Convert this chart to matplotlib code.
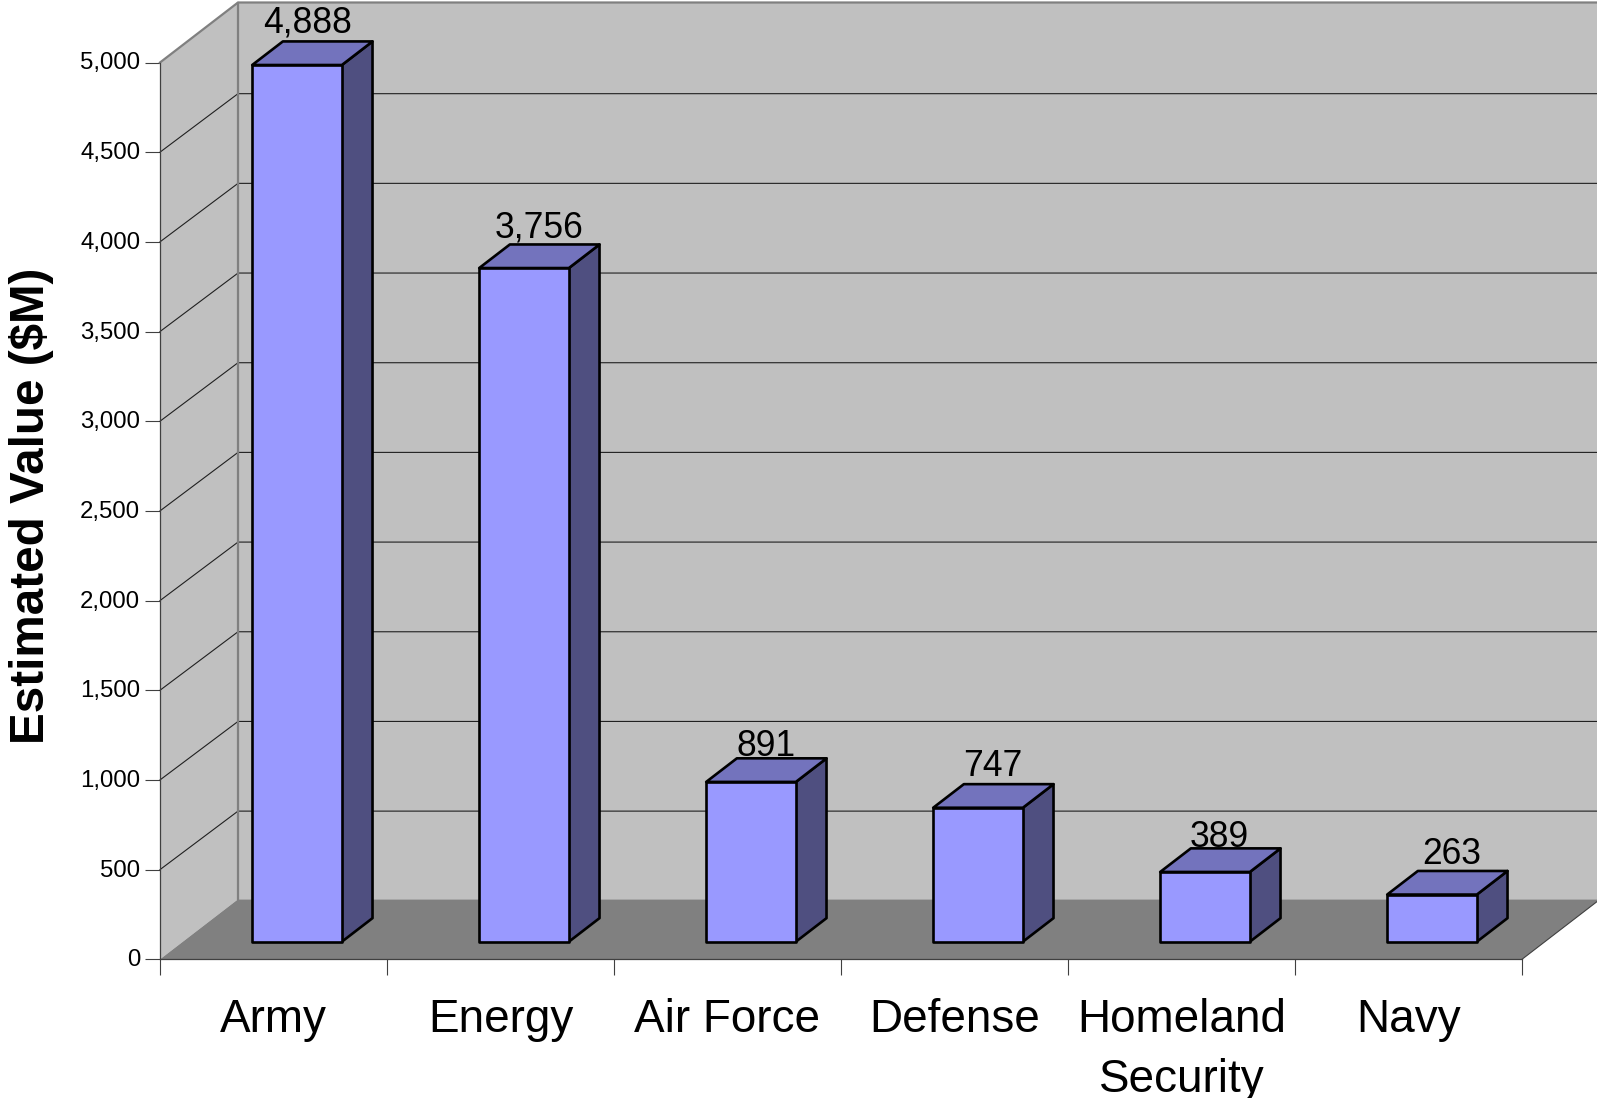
import matplotlib
matplotlib.use("Agg")
import matplotlib.pyplot as plt
from matplotlib.patches import Polygon
from matplotlib.transforms import ScaledTranslation

categories = ["Army", "Energy", "Air Force", "Defense", "Homeland\nSecurity", "Navy"]
values = [4888, 3756, 891, 747, 389, 263]
value_labels = ["4,888", "3,756", "891", "747", "389", "263"]
y_ticks = [0, 500, 1000, 1500, 2000, 2500, 3000, 3500, 4000, 4500, 5000]

# Tamano en pixeles y plano frontal del grafico
W, H = 1597, 1098
LEFT, RIGHT = 160, 1522
TOP, BOTTOM = 62.5, 959.3

# Profundidad de la pared del fondo, en pixeles
DEPTH_X, DEPTH_Y = 78, 60
px_x = len(categories) / (RIGHT - LEFT)
px_y = 5000 / (BOTTOM - TOP)

BAR_WIDTH = 0.395
BAR_Z0, BAR_Z1 = 0.293, 0.686

# Ajuste de cada etiqueta respecto a la cara superior (pixeles)
label_dx = [-4, 0, 0, 0, 0, 5]
label_dy = [18, 16, 12, 18, 11, 16]

plt.rcParams["font.family"] = ["Liberation Sans", "DejaVu Sans"]

fig = plt.figure(figsize=(W / 100, H / 100), dpi=100)
ax = fig.add_axes([LEFT / W, 1 - BOTTOM / H, (RIGHT - LEFT) / W, (BOTTOM - TOP) / H])
ax.set_xlim(0, len(categories))
ax.set_ylim(0, 5000)


def project(x, y, z):
    # Pasa un punto (x, valor, profundidad) al plano del eje
    return x + z * DEPTH_X * px_x, y + z * DEPTH_Y * px_y


def face(points, color, edge="none", lw=0, zorder=1):
    ax.add_patch(Polygon([project(*p) for p in points], closed=True, facecolor=color,
                         edgecolor=edge, linewidth=lw, joinstyle="round",
                         clip_on=False, zorder=zorder))


n = len(categories)
far = n + 1

# Paredes y suelo
face([(0, 0, 1), (far, 0, 1), (far, 5000, 1), (0, 5000, 1)], "#c0c0c0")
face([(0, 0, 0), (0, 0, 1), (0, 5000, 1), (0, 5000, 0)], "#c0c0c0")
face([(0, 0, 0), (n, 0, 0), (n, 0, 1), (0, 0, 1)], "#808080")

# Rejilla (la pared del fondo cae un poco mas abajo que la perspectiva exacta)
back_nudge = 1.5 * px_y
for t in y_ticks[1:-1]:
    x0, y0 = project(0, t, 0)
    x1, y1 = project(0, t, 1)
    x2, y2 = project(far, t, 1)
    ax.plot([x0, x1, x2], [y0, y1 - back_nudge, y2 - back_nudge], color="#202020", lw=0.8,
            clip_on=False, zorder=2)

# Bordes grises de las paredes
x0, y0 = project(0, 5000, 0)
x1, y1 = project(0, 5000, 1)
x2, y2 = project(far, 5000, 1)
ax.plot([x0, x1, x2], [y0, y1, y2], color="#808080", lw=1.6, clip_on=False, zorder=2)
x3, y3 = project(0, 0, 1)
ax.plot([x1, x3], [y1, y3], color="#808080", lw=1.6, clip_on=False, zorder=2)
x4, y4 = project(n, 0, 0)
x5, y5 = project(n, 0, 1)
ax.plot([x4, x5], [y4, y5], color="#404040", lw=0.8, clip_on=False, zorder=2)

# Barras
for i, (v, lab) in enumerate(zip(values, value_labels)):
    a = i + 0.5 - BAR_WIDTH / 2 + 0.003
    b = i + 0.5 + BAR_WIDTH / 2 + 0.003
    face([(b, 0, BAR_Z0), (b, 0, BAR_Z1), (b, v, BAR_Z1), (b, v, BAR_Z0)],
         "#4f4f80", "black", 1.9, 3)
    face([(a, v, BAR_Z0), (b, v, BAR_Z0), (b, v, BAR_Z1), (a, v, BAR_Z1)],
         "#7373bd", "black", 1.9, 3)
    face([(a, 0, BAR_Z0), (b, 0, BAR_Z0), (b, v, BAR_Z0), (a, v, BAR_Z0)],
         "#9999ff", "black", 1.9, 4)
    tx, _ = project(i + 0.5, v, (BAR_Z0 + BAR_Z1) / 2)
    ty = project(i + 0.5, v, BAR_Z1)[1]
    ax.annotate(lab, (tx, ty), xytext=(label_dx[i], label_dy[i]), textcoords="offset pixels",
                ha="center", va="center", fontsize=25.6, color="black",
                annotation_clip=False, zorder=5)

# Ejes
ax.patch.set_visible(False)
for side in ("top", "right"):
    ax.spines[side].set_visible(False)
for side in ("left", "bottom"):
    ax.spines[side].set_color("#404040")
    ax.spines[side].set_linewidth(0.9)
    ax.spines[side].set_zorder(2.5)

ax.set_yticks(y_ticks)
ax.set_yticklabels([f"{t:,}" for t in y_ticks])
ax.tick_params(axis="y", length=10.8, width=0.8, color="#404040", pad=3.5, labelsize=17.3)
up = ScaledTranslation(0, 1.5 / 100, fig.dpi_scale_trans)
for lab in ax.get_yticklabels():
    lab.set_transform(lab.get_transform() + up)

ax.set_xticks(range(n + 1))
ax.set_xticklabels([])
ax.tick_params(axis="x", which="major", length=11.5, width=0.8, color="#404040")
ax.set_xticks([i + 0.5 for i in range(n)], minor=True)
ax.set_xticklabels(categories, minor=True, fontsize=33, linespacing=1.47)
ax.tick_params(axis="x", which="minor", length=0, pad=28)

ax.set_ylabel("Estimated Value ($M)", fontsize=34.3, fontweight="bold", color="black", va="center")
ax.yaxis.set_label_coords(31.5 / W, 1 - 506 / H, transform=fig.transFigure)

plt.savefig("out.png", dpi=100)
plt.close()
